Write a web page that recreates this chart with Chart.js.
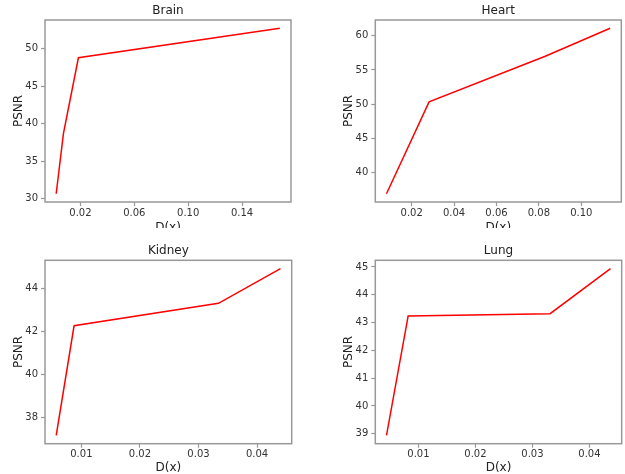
<!DOCTYPE html>
<html>
<head>
<meta charset="utf-8">
<script src="https://cdn.jsdelivr.net/npm/chart.js@4.4.0/dist/chart.umd.min.js"></script>
<style>
  body { margin:0; background:#fff; overflow:hidden; width:625px; height:474px; position:relative; }
  .panel { position:absolute; overflow:hidden; }
  canvas { display:block; }
</style>
</head>
<body>
<div class="panel" style="left:0;top:0;width:312px;height:228px"><canvas id="brain" width="312" height="240"></canvas></div>
<div class="panel" style="left:312px;top:0;width:313px;height:228px"><canvas id="heart" width="313" height="240"></canvas></div>
<div class="panel" style="left:0;top:237px;width:312px;height:237px"><canvas id="kidney" width="312" height="240"></canvas></div>
<div class="panel" style="left:312px;top:237px;width:313px;height:237px"><canvas id="lung" width="313" height="240"></canvas></div>
<script>
// data
var brainX = [0.002, 0.0074, 0.0185, 0.168];
var brainY = [30.65, 38.7, 48.77, 52.7];
var brainXTicks = [0.02, 0.06, 0.10, 0.14];
var brainYTicks = [30, 35, 40, 45, 50];

var heartX = [0.0081, 0.0282, 0.083, 0.1136];
var heartY = [36.9, 50.33, 57.0, 61.1];
var heartXTicks = [0.02, 0.04, 0.06, 0.08, 0.10];
var heartYTicks = [40, 45, 50, 55, 60];

var kidneyX = [0.0057, 0.00875, 0.0334, 0.044];
var kidneyY = [37.15, 42.27, 43.32, 44.94];
var kidneyXTicks = [0.01, 0.02, 0.03, 0.04];
var kidneyYTicks = [38, 40, 42, 44];

var lungX = [0.0044, 0.0082, 0.0331, 0.0437];
var lungY = [38.94, 43.24, 43.32, 44.94];
var lungXTicks = [0.01, 0.02, 0.03, 0.04];
var lungYTicks = [39, 40, 41, 42, 43, 44, 45];

var FONT = "'DejaVu Sans', sans-serif";
var SPINE = '#999';

// box around the plot area (matplotlib spines)
var frame = {
  id: 'frame',
  afterDraw: function(chart){
    var a = chart.chartArea, c = chart.ctx;
    c.save();
    c.strokeStyle = SPINE;
    c.lineWidth = 1.5;
    c.strokeRect(a.left, a.top, a.right - a.left, a.bottom - a.top);
    c.restore();
  }
};

function margins(arr){
  var lo = Math.min.apply(null, arr), hi = Math.max.apply(null, arr);
  var m = (hi - lo) * 0.05;
  return [lo - m, hi + m];
}

function makeChart(id, title, xs, ys, xTicks, yTicks, lay){
  var xr = margins(xs), yr = margins(ys);
  var pts = xs.map(function(x, i){ return {x: x, y: ys[i]}; });
  return new Chart(document.getElementById(id), {
    type: 'line',
    data: { datasets: [{ data: pts, borderColor: '#ff0000', borderWidth: 1.5, pointRadius: 0, tension: 0, fill: false }] },
    plugins: [frame],
    options: {
      responsive: false,
      animation: false,
      events: [],
      layout: { padding: { left: lay.left, right: lay.right, top: 0, bottom: 0 } },
      plugins: {
        legend: { display: false },
        tooltip: { enabled: false },
        title: {
          display: true, text: title, fullSize: false, color: '#222',
          font: { family: FONT, size: 12, weight: 'normal' },
          padding: { top: lay.tTop, bottom: lay.tBot }
        }
      },
      scales: {
        x: {
          type: 'linear', min: xr[0], max: xr[1],
          afterBuildTicks: function(s){ s.ticks = xTicks.map(function(v){ return {value: v}; }); },
          afterFit: function(s){ s.height = lay.xH; },
          border: { display: false },
          grid: { drawOnChartArea: false, drawTicks: true, tickLength: 4, tickColor: SPINE, tickWidth: 1.2 },
          ticks: { autoSkip: false, maxRotation: 0, padding: 1, color: '#333',
                   font: { family: FONT, size: 10 },
                   callback: function(v){ return v.toFixed(2); } },
          title: { display: true, text: 'D(x)', color: '#222', font: { family: FONT, size: 12 },
                   padding: { top: 0, bottom: lay.xtB } }
        },
        y: {
          type: 'linear', min: yr[0], max: yr[1],
          afterBuildTicks: function(s){ s.ticks = yTicks.map(function(v){ return {value: v}; }); },
          afterFit: function(s){ s.width = lay.yW; },
          border: { display: false },
          grid: { drawOnChartArea: false, drawTicks: true, tickLength: 4, tickColor: SPINE, tickWidth: 1.2 },
          ticks: { autoSkip: false, padding: 3, color: '#333',
                   font: { family: FONT, size: 10 },
                   callback: function(v){ return String(v); } },
          title: { display: true, text: 'PSNR', color: '#222', font: { family: FONT, size: 12 },
                   padding: { top: 12, bottom: 0 } }
        }
      }
    }
  });
}

makeChart('brain', 'Brain', brainX, brainY, brainXTicks, brainYTicks,
  { left: 0, right: 21, yW: 45, tTop: 4.1, tBot: 1.5, xH: 38, xtB: 4.8 });
makeChart('heart', 'Heart', heartX, heartY, heartXTicks, heartYTicks,
  { left: 18, right: 3.7, yW: 45.3, tTop: 4.1, tBot: 1.5, xH: 38, xtB: 4.8 });
makeChart('kidney', 'Kidney', kidneyX, kidneyY, kidneyXTicks, kidneyYTicks,
  { left: 0, right: 20.3, yW: 45, tTop: 7.1, tBot: 1.8, xH: 33.3, xtB: 1.8 });
makeChart('lung', 'Lung', lungX, lungY, lungXTicks, lungYTicks,
  { left: 18, right: 3.3, yW: 45.3, tTop: 7.1, tBot: 1.8, xH: 33.3, xtB: 1.8 });
</script>
</body>
</html>
